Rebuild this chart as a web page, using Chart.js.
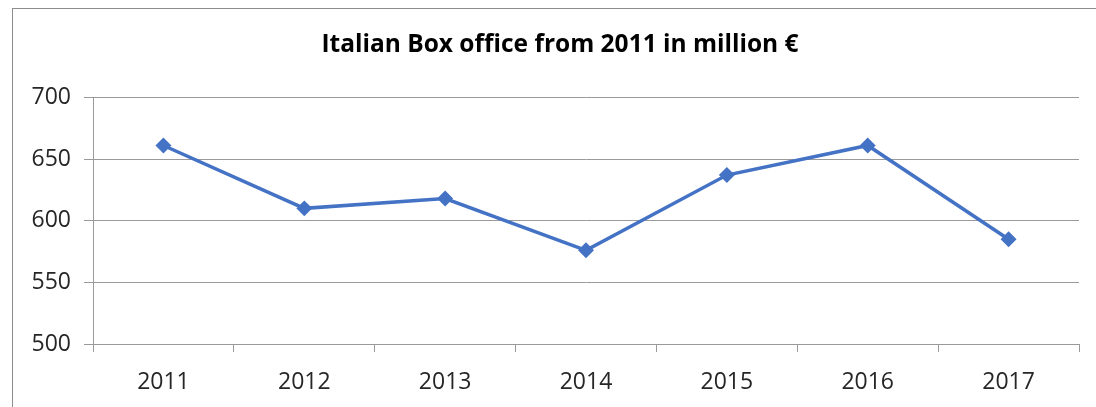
<!DOCTYPE html>
<html>
<head>
<meta charset="utf-8">
<script src="https://cdn.jsdelivr.net/npm/chart.js@4/dist/chart.umd.min.js"></script>
<style>
    html, body { margin: 0; padding: 0; background: #fff; }
    #wrap { position: relative; width: 1096px; height: 407px; overflow: hidden; }
    #frame { position: absolute; left: 12px; top: 8px; width: 1200px; height: 500px;
             border-left: 1px solid #8c8c8c; border-top: 1px solid #8c8c8c; }
    canvas { position: absolute; left: 0; top: 0; }
</style>
</head>
<body>
<div id="wrap">
    <div id="frame"></div>
    <canvas id="chart" width="1096" height="407"></canvas>
</div>
<script>
// ── Data ────────────────────────────────────
const YEARS = ['2011', '2012', '2013', '2014', '2015', '2016', '2017'];
const BOX_OFFICE = [661, 610, 618, 576, 637, 661, 585];
const Y_TICKS = [500, 550, 600, 650, 700];

const LINE_COLOR = '#4472C4';
const GRID_COLOR = '#9a9a9a';
const TEXT_COLOR = '#262626';
const FONT = 'Open Sans';

// the original title sits a bit right of the canvas centre
const shiftTitle = {
    id: 'shiftTitle',
    afterLayout(chart) {
        if (chart.titleBlock) chart.titleBlock.left = 41;
    },
};

new Chart(document.getElementById('chart'), {
    type: 'line',
    data: {
        labels: YEARS,
        datasets: [{
            label: 'Box office',
            data: BOX_OFFICE,
            borderColor: LINE_COLOR,
            backgroundColor: LINE_COLOR,
            borderWidth: 3.5,
            pointStyle: 'rectRot',
            pointRadius: 5.5,
            tension: 0,
            fill: false,
        }],
    },
    options: {
        responsive: false,
        animation: false,
        layout: { padding: { left: 0, right: 17, top: 0, bottom: 0 } },
        plugins: {
            legend: { display: false },
            tooltip: { enabled: false },
            title: {
                display: true,
                text: 'Italian Box office from 2011 in million €',
                color: '#000',
                font: { family: FONT, size: 24.5, weight: 'bold' },
                padding: { top: 30, bottom: 38 },
            },
        },
        scales: {
            x: {
                offset: true,
                afterFit: axis => { axis.height = 63; },
                grid: { offset: true, drawOnChartArea: false, drawTicks: true, tickLength: 8, color: GRID_COLOR },
                border: { color: GRID_COLOR },
                ticks: { color: TEXT_COLOR, font: { family: FONT, size: 23 }, padding: 17, maxRotation: 0 },
            },
            y: {
                min: Y_TICKS[0],
                max: Y_TICKS[Y_TICKS.length - 1],
                afterBuildTicks: axis => { axis.ticks = Y_TICKS.map(v => ({ value: v })); },
                afterFit: axis => { axis.width = 93; },
                grid: { color: GRID_COLOR, tickLength: 9 },
                border: { color: GRID_COLOR },
                ticks: { color: TEXT_COLOR, font: { family: FONT, size: 23 }, padding: 13 },
            },
        },
    },
    plugins: [shiftTitle],
});
</script>
</body>
</html>
